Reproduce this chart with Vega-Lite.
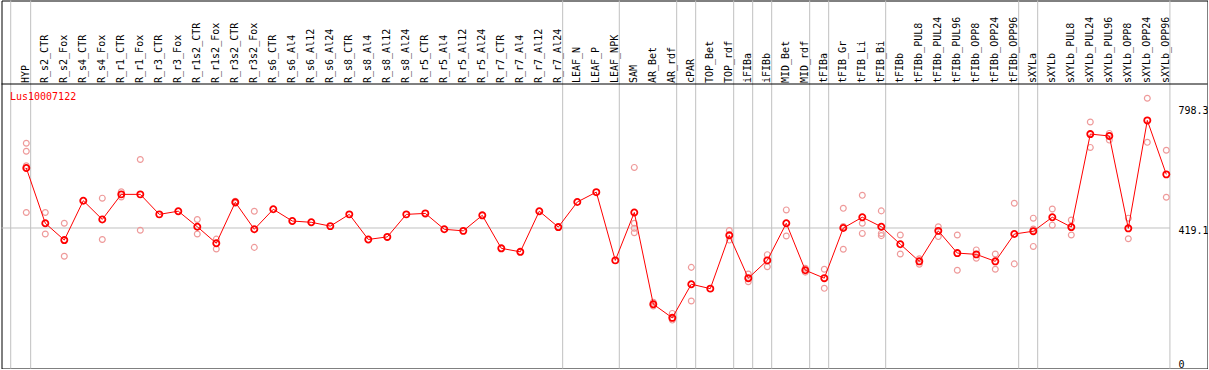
{
  "$schema": "https://vega.github.io/schema/vega-lite/v6.json",
  "width": 1206,
  "height": 368,
  "autosize": {"type": "none"},
  "padding": {"left": 1.5, "top": 0.5, "right": 0, "bottom": 0},
  "background": "white",
  "config": {"view": {"stroke": "black", "strokeWidth": 1}},
  "datasets": {
    "means": [
      {"i": 0, "name": "HYP", "mean": 608},
      {"i": 1, "name": "R_s2_CTR", "mean": 434},
      {"i": 2, "name": "R_s2_Fox", "mean": 381},
      {"i": 3, "name": "R_s4_CTR", "mean": 505},
      {"i": 4, "name": "R_s4_Fox", "mean": 446},
      {"i": 5, "name": "R_r1_CTR", "mean": 525},
      {"i": 6, "name": "R_r1_Fox", "mean": 525},
      {"i": 7, "name": "R_r3_CTR", "mean": 462},
      {"i": 8, "name": "R_r3_Fox", "mean": 472},
      {"i": 9, "name": "R_r1s2_CTR", "mean": 423},
      {"i": 10, "name": "R_r1s2_Fox", "mean": 371},
      {"i": 11, "name": "R_r3s2_CTR", "mean": 500},
      {"i": 12, "name": "R_r3s2_Fox", "mean": 415},
      {"i": 13, "name": "R_s6_CTR", "mean": 478},
      {"i": 14, "name": "R_s6_Al4", "mean": 441},
      {"i": 15, "name": "R_s6_Al12", "mean": 437},
      {"i": 16, "name": "R_s6_Al24", "mean": 425},
      {"i": 17, "name": "R_s8_CTR", "mean": 462},
      {"i": 18, "name": "R_s8_Al4", "mean": 383},
      {"i": 19, "name": "R_s8_Al12", "mean": 391},
      {"i": 20, "name": "R_s8_Al24", "mean": 462},
      {"i": 21, "name": "R_r5_CTR", "mean": 465},
      {"i": 22, "name": "R_r5_Al4", "mean": 415},
      {"i": 23, "name": "R_r5_Al12", "mean": 410},
      {"i": 24, "name": "R_r5_Al24", "mean": 459},
      {"i": 25, "name": "R_r7_CTR", "mean": 355},
      {"i": 26, "name": "R_r7_Al4", "mean": 344},
      {"i": 27, "name": "R_r7_Al12", "mean": 472},
      {"i": 28, "name": "R_r7_Al24", "mean": 422},
      {"i": 29, "name": "LEAF_N", "mean": 501},
      {"i": 30, "name": "LEAF_P", "mean": 532},
      {"i": 31, "name": "LEAF_NPK", "mean": 317},
      {"i": 32, "name": "SAM", "mean": 468},
      {"i": 33, "name": "AR_Bet", "mean": 179},
      {"i": 34, "name": "AR_rdf", "mean": 136},
      {"i": 35, "name": "cPAR", "mean": 242},
      {"i": 36, "name": "TOP_Bet", "mean": 228},
      {"i": 37, "name": "TOP_rdf", "mean": 396},
      {"i": 38, "name": "iFIBa", "mean": 261},
      {"i": 39, "name": "iFIBb", "mean": 317},
      {"i": 40, "name": "MID_Bet", "mean": 434},
      {"i": 41, "name": "MID_rdf", "mean": 286},
      {"i": 42, "name": "tFIBa", "mean": 261},
      {"i": 43, "name": "tFIB_Gr", "mean": 419},
      {"i": 44, "name": "tFIB_Li", "mean": 453},
      {"i": 45, "name": "tFIB_Bi", "mean": 423},
      {"i": 46, "name": "tFIBb", "mean": 368},
      {"i": 47, "name": "tFIBb_PUL8", "mean": 314},
      {"i": 48, "name": "tFIBb_PUL24", "mean": 410},
      {"i": 49, "name": "tFIBb_PUL96", "mean": 340},
      {"i": 50, "name": "tFIBb_OPP8", "mean": 336},
      {"i": 51, "name": "tFIBb_OPP24", "mean": 314},
      {"i": 52, "name": "tFIBb_OPP96", "mean": 400},
      {"i": 53, "name": "sXYLa", "mean": 409},
      {"i": 54, "name": "sXYLb", "mean": 453},
      {"i": 55, "name": "sXYLb_PUL8", "mean": 422},
      {"i": 56, "name": "sXYLb_PUL24", "mean": 715},
      {"i": 57, "name": "sXYLb_PUL96", "mean": 709},
      {"i": 58, "name": "sXYLb_OPP8", "mean": 418},
      {"i": 59, "name": "sXYLb_OPP24", "mean": 758},
      {"i": 60, "name": "sXYLb_OPP96", "mean": 588}
    ],
    "reps": [
      {"i": 0, "v": 686}, {"i": 0, "v": 661}, {"i": 0, "v": 615}, {"i": 0, "v": 468},
      {"i": 1, "v": 468}, {"i": 1, "v": 400},
      {"i": 2, "v": 434}, {"i": 2, "v": 330},
      {"i": 4, "v": 513}, {"i": 4, "v": 383},
      {"i": 5, "v": 533}, {"i": 5, "v": 517},
      {"i": 6, "v": 635}, {"i": 6, "v": 412},
      {"i": 9, "v": 446}, {"i": 9, "v": 400},
      {"i": 10, "v": 384}, {"i": 10, "v": 353},
      {"i": 11, "v": 503}, {"i": 11, "v": 497},
      {"i": 12, "v": 472}, {"i": 12, "v": 358},
      {"i": 32, "v": 610}, {"i": 32, "v": 434}, {"i": 32, "v": 418}, {"i": 32, "v": 404},
      {"i": 33, "v": 185}, {"i": 33, "v": 173},
      {"i": 34, "v": 150}, {"i": 34, "v": 129},
      {"i": 35, "v": 295}, {"i": 35, "v": 189},
      {"i": 37, "v": 411}, {"i": 37, "v": 381},
      {"i": 38, "v": 274}, {"i": 38, "v": 250},
      {"i": 39, "v": 335}, {"i": 39, "v": 297},
      {"i": 40, "v": 476}, {"i": 40, "v": 394},
      {"i": 41, "v": 292}, {"i": 41, "v": 280},
      {"i": 42, "v": 289}, {"i": 42, "v": 229},
      {"i": 43, "v": 481}, {"i": 43, "v": 352}, {"i": 43, "v": 424},
      {"i": 44, "v": 522}, {"i": 44, "v": 434}, {"i": 44, "v": 402},
      {"i": 45, "v": 473}, {"i": 45, "v": 402}, {"i": 45, "v": 395},
      {"i": 46, "v": 397}, {"i": 46, "v": 337},
      {"i": 47, "v": 322}, {"i": 47, "v": 305},
      {"i": 48, "v": 423}, {"i": 48, "v": 392},
      {"i": 49, "v": 397}, {"i": 49, "v": 286},
      {"i": 50, "v": 350}, {"i": 50, "v": 324},
      {"i": 51, "v": 337}, {"i": 51, "v": 289},
      {"i": 52, "v": 497}, {"i": 52, "v": 306},
      {"i": 53, "v": 450}, {"i": 53, "v": 361}, {"i": 53, "v": 416},
      {"i": 54, "v": 479}, {"i": 54, "v": 428},
      {"i": 55, "v": 444}, {"i": 55, "v": 397},
      {"i": 56, "v": 753}, {"i": 56, "v": 673},
      {"i": 57, "v": 717}, {"i": 57, "v": 696},
      {"i": 58, "v": 450}, {"i": 58, "v": 385},
      {"i": 59, "v": 828}, {"i": 59, "v": 689},
      {"i": 60, "v": 664}, {"i": 60, "v": 516}
    ],
    "seps": [
      {"s": -0.82}, {"s": 0.23}, {"s": 28.23}, {"s": 31.21}, {"s": 34.23},
      {"s": 35.23}, {"s": 37.23}, {"s": 38.23}, {"s": 39.23}, {"s": 41.23},
      {"s": 42.23}, {"s": 45.23}, {"s": 52.23}, {"s": 53.23}, {"s": 60.19}
    ],
    "title": [{"label": "Lus10007122"}]
  },
  "layer": [
    {
      "data": {"name": "seps"},
      "mark": {"type": "rule", "color": "#c0c0c0", "strokeWidth": 1},
      "encoding": {
        "x": {"field": "s", "type": "quantitative",
              "scale": {"domain": [-1.305, 62.168], "nice": false, "zero": false},
              "axis": null}
      }
    },
    {
      "data": {"values": [{"g": 419.1}]},
      "mark": {"type": "rule", "color": "#c0c0c0", "strokeWidth": 1},
      "encoding": {
        "x": {"datum": -1.305, "type": "quantitative"},
        "x2": {"datum": 60.19},
        "y": {"field": "g", "type": "quantitative"}
      }
    },
    {
      "data": {"values": [{"d": 872.7}]},
      "mark": {"type": "rule", "color": "black", "strokeWidth": 1},
      "encoding": {
        "y": {"field": "d", "type": "quantitative"}
      }
    },
    {
      "data": {"name": "means"},
      "mark": {"type": "text", "angle": 270, "align": "left", "baseline": "middle",
               "font": "DejaVu Sans Mono", "fontSize": 10, "color": "black"},
      "encoding": {
        "x": {"field": "i", "type": "quantitative"},
        "y": {"datum": 875.9, "type": "quantitative"},
        "text": {"field": "name"}
      }
    },
    {
      "data": {"name": "title"},
      "mark": {"type": "text", "align": "left", "baseline": "middle",
               "font": "DejaVu Sans Mono", "fontSize": 10, "color": "red"},
      "encoding": {
        "x": {"datum": -0.86, "type": "quantitative"},
        "y": {"datum": 832, "type": "quantitative"},
        "text": {"field": "label"}
      }
    },
    {
      "data": {"name": "reps"},
      "mark": {"type": "point", "shape": "circle", "filled": false, "size": 34,
               "stroke": "#ee9a9a", "strokeWidth": 1.2, "opacity": 1},
      "encoding": {
        "x": {"field": "i", "type": "quantitative"},
        "y": {"field": "v", "type": "quantitative"}
      }
    },
    {
      "data": {"name": "means"},
      "mark": {"type": "line", "color": "red", "strokeWidth": 1},
      "encoding": {
        "x": {"field": "i", "type": "quantitative"},
        "y": {"field": "mean", "type": "quantitative",
              "scale": {"domain": [-23.6, 1135.8], "nice": false, "zero": false},
              "axis": {"orient": "right", "values": [0, 419.1, 798.3], "offset": -29.5,
                       "ticks": false, "domain": false, "grid": false, "title": null,
                       "labelPadding": 0, "labelBaseline": "top", "labelOffset": -2,
                       "labelFont": "DejaVu Sans Mono", "labelFontSize": 10,
                       "labelColor": "black", "labelAlign": "left",
                       "labelExpr": "datum.value == 0 ? '0' : format(datum.value, '.1f')"}}
      }
    },
    {
      "data": {"name": "means"},
      "mark": {"type": "point", "shape": "circle", "filled": false, "size": 38,
               "stroke": "red", "strokeWidth": 1.8, "opacity": 1},
      "encoding": {
        "x": {"field": "i", "type": "quantitative"},
        "y": {"field": "mean", "type": "quantitative"}
      }
    }
  ]
}
